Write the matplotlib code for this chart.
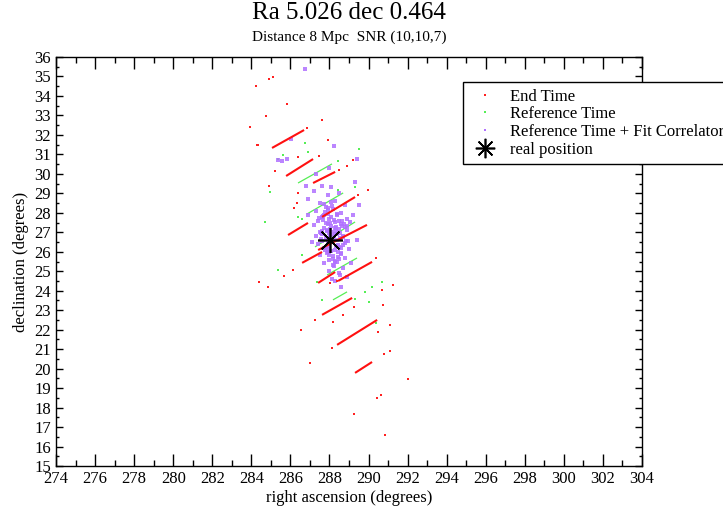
import matplotlib
matplotlib.use('Agg')
from matplotlib import pyplot as plt

plt.rcParams['font.family'] = ['Liberation Serif', 'DejaVu Serif']

# red "End Time" streaks (ra0, dec0, ra1, dec1)
red_streaks = [
	(285.06, 31.33, 286.70, 32.25),
	(285.78, 29.89, 287.16, 30.76),
	(287.16, 29.53, 288.29, 30.10),
	(287.62, 27.79, 289.31, 28.81),
	(285.88, 26.86, 286.90, 27.48),
	(287.42, 26.09, 289.92, 27.38),
	(286.60, 25.43, 287.62, 25.99),
	(287.42, 24.40, 288.29, 24.96),
	(288.44, 24.50, 290.18, 25.48),
	(287.62, 22.76, 289.16, 23.63),
	(288.39, 21.22, 290.44, 22.50),
	(289.31, 19.78, 290.18, 20.34),
]
red_ra = [284.91, 285.11, 284.24, 285.83, 284.75, 287.62, 286.85, 284.29, 287.93,
	288.90, 287.47, 286.39, 288.49, 289.21, 285.21, 284.39, 284.85, 285.67, 286.14,
	288.03, 288.39, 290.69, 290.38, 291.26, 284.34, 284.91, 286.39, 286.34, 286.19,
	289.98, 289.46, 287.26, 286.55, 288.13, 287.01, 288.70, 289.26, 290.49, 291.10,
	290.79, 291.10, 290.74, 292.02, 290.85, 289.26, 290.44, 290.64, 283.93, 288.18]
red_dec = [34.87, 34.97, 34.51, 33.59, 32.97, 32.77, 32.36, 31.48, 31.74,
	30.40, 30.92, 30.87, 30.20, 30.71, 30.15, 24.45, 24.19, 24.76, 25.07,
	24.40, 24.50, 24.04, 25.68, 24.30, 31.48, 29.38, 29.02, 28.50, 28.25,
	29.17, 28.92, 22.50, 21.99, 21.06, 20.29, 22.76, 23.17, 21.88, 22.24,
	20.75, 20.91, 23.27, 19.47, 16.60, 17.67, 18.49, 18.65, 32.41, 22.40]

# green "Reference Time" streaks and dots
green_streaks = [
	(286.39, 29.53, 288.13, 30.51),
	(286.85, 27.94, 288.70, 29.02),
	(287.26, 26.25, 289.31, 27.53),
	(287.88, 24.81, 289.41, 25.68),
	(288.18, 23.53, 288.90, 23.94),
]
green_ra = [286.75, 286.90, 285.37, 285.60, 289.51, 288.44, 288.44, 289.31, 286.39,
	286.60, 284.96, 284.70, 286.60, 285.37, 287.36, 290.69, 289.82, 290.18, 287.62,
	289.31, 287.62, 290.00, 290.38]
green_dec = [31.59, 31.12, 30.76, 30.97, 31.28, 30.66, 29.17, 29.33, 27.79,
	27.70, 29.07, 27.53, 25.84, 25.07, 24.45, 24.45, 23.94, 24.19, 23.53,
	23.58, 23.53, 23.43, 22.34]

# purple "Reference Time + Fit Correlator" cloud
purple_ra = [286.75, 288.23, 289.41, 286.03, 285.37, 285.83, 285.55,
	287.6, 288.1, 287.2, 288.5, 287.9, 286.9, 288.3, 287.5, 288.8, 287.8, 288.2,
	287.3, 288.6, 287.9, 288.4, 287.6, 288.0, 288.9, 287.4, 288.3, 287.8, 288.6,
	287.2, 288.1, 287.7, 288.5, 288.9, 287.5, 288.0, 288.3, 287.3, 288.7, 287.9,
	288.4, 287.6, 288.15, 288.8, 287.4, 288.0, 288.5, 287.7, 289.0, 288.3, 287.9,
	288.6, 287.5, 288.2, 288.8, 288.0, 288.4, 287.7, 289.1, 288.2, 288.7, 288.0,
	288.5, 288.9, 288.3, 288.6, 289.2, 289.4, 286.9, 287.1, 289.5, 286.8, 289.3,
	288.0, 287.3, 287.85, 288.35, 288.05, 287.55, 288.75, 288.45, 287.95, 288.25,
	287.65, 288.55, 288.1, 287.45, 288.85, 288.35, 287.75, 288.65, 288.15, 287.85,
	288.45, 288.05, 288.7, 287.6, 288.3, 288.9, 287.95,
	287.7, 287.9, 288.1, 288.3, 288.5, 287.8, 288.0, 288.2, 288.4, 288.6,
	287.75, 287.95, 288.15, 288.35, 288.55, 287.85, 288.05, 288.25, 288.45, 288.65,
	287.6, 287.8, 288.0, 288.2, 288.4, 288.6, 288.8, 287.7, 287.9, 288.1,
	288.3, 288.5, 288.7, 287.55, 287.65, 288.25, 288.95, 289.05, 288.55, 288.15]
purple_dec = [35.38, 31.43, 30.76, 31.79, 30.72, 30.76, 30.66,
	29.4, 29.3, 29.1, 29.0, 28.9, 28.7, 28.6, 28.5, 28.4, 28.3, 28.2,
	28.1, 28.0, 27.95, 27.9, 27.8, 27.7, 27.7, 27.6, 27.55, 27.5, 27.4,
	27.35, 27.3, 27.2, 27.15, 27.1, 27.0, 26.95, 26.9, 26.8, 26.8, 26.7,
	26.6, 26.55, 26.5, 26.45, 26.4, 26.3, 26.25, 26.2, 26.15, 26.1, 26.0,
	25.9, 25.85, 25.8, 25.7, 25.6, 25.5, 25.4, 25.4, 25.3, 25.15, 25.0,
	24.9, 24.7, 24.5, 24.2, 27.9, 26.6, 27.9, 26.5, 28.4, 29.4, 29.6,
	30.3, 30.0, 27.05, 27.25, 26.85, 26.65, 27.45, 26.35, 26.15, 27.65,
	27.85, 26.95, 26.05, 27.75, 26.55, 27.05, 28.05, 27.6, 28.35, 25.95,
	25.75, 27.15, 26.75, 26.9, 25.55, 27.3, 28.15,
	27.9, 27.4, 27.8, 27.2, 27.6, 26.7, 26.4, 26.6, 26.9, 26.2,
	26.1, 26.5, 27.0, 26.3, 26.7, 27.1, 27.5, 26.8, 26.0, 27.3,
	27.05, 26.25, 25.85, 25.65, 27.95, 25.95, 27.25, 28.45, 28.25, 28.55,
	25.45, 25.65, 26.35, 26.95, 27.65, 25.25, 26.55, 27.55, 24.8, 24.6]

real_ra = [288.05]
real_dec = [26.58]

title_text = 'Ra 5.026 dec 0.464'
subtitle_text = 'Distance 8 Mpc  SNR (10,10,7)'


def draw_streaks(ax, streaks, color, lw):
	for ra0, dec0, ra1, dec1 in streaks:
		ax.plot([ra0, ra1], [dec0, dec1], color=color, lw=lw, solid_capstyle='butt')


fig = plt.figure(figsize=(7.23, 5.08), dpi=100)
ax = fig.add_axes([56/723, 42/508, 586/723, 409/508])

draw_streaks(ax, green_streaks, '#55ee55', 0.9)
ax.plot(green_ra, green_dec, 's', color='#55ee55', ms=1.5, mew=0, label='Reference Time')
ax.plot(purple_ra, purple_dec, 's', color='#b070ff', ms=2.3, mew=0, alpha=0.85,
	label='Reference Time + Fit Correlator')
draw_streaks(ax, red_streaks, '#ff1010', 1.5)
ax.plot(red_ra, red_dec, 's', color='#ff2020', ms=1.8, mew=0, label='End Time')
ax.plot(real_ra, real_dec, marker=(8, 2, 0), color='black', ms=18, mew=1.2,
	ls='none', label='real position')

ax.set_xlim(274, 304)
ax.set_ylim(15, 36)
ax.set_xticks(range(274, 305, 2))
ax.set_xticks(range(275, 304, 2), minor=True)
ax.set_yticks(range(15, 37))
ax.set_yticks([v + 0.5 for v in range(15, 36)], minor=True)
ax.tick_params(which='both', direction='in', top=True, right=True, labelsize=12,
	colors='black', width=1)
ax.tick_params(axis='x', which='major', length=8.5)
ax.tick_params(axis='x', which='minor', length=4.3)
ax.tick_params(axis='y', which='major', length=5)
ax.tick_params(axis='y', which='minor', length=2.5)
for sp in ax.spines.values():
	sp.set_linewidth(1.0)
ax.set_xlabel('right ascension (degrees)', fontsize=12, labelpad=2)
ax.set_ylabel('declination (degrees)', fontsize=12, labelpad=4)

fig.text(349/723, 1 - 13/508, title_text, ha='center', va='center', fontsize=18)
fig.text(349/723, 1 - 37/508, subtitle_text, ha='center', va='center', fontsize=11)

handles, labels = ax.get_legend_handles_labels()
order = [2, 0, 1, 3]
leg = ax.legend([handles[i] for i in order], [labels[i] for i in order],
	loc='upper left', bbox_to_anchor=(463/723, 1 - 82/508),
	bbox_transform=fig.transFigure, fontsize=12, frameon=True, fancybox=False,
	framealpha=1, edgecolor='black', borderpad=0.4, labelspacing=0.1,
	handlelength=1.8, handletextpad=0.6, borderaxespad=0)
leg.get_frame().set_linewidth(1.0)
for h in leg.legend_handles[:3]:
	h.set_markersize(1.5)
	h.set_alpha(1)
leg.legend_handles[3].set_markersize(14)

fig.savefig('out.png', dpi=100)
